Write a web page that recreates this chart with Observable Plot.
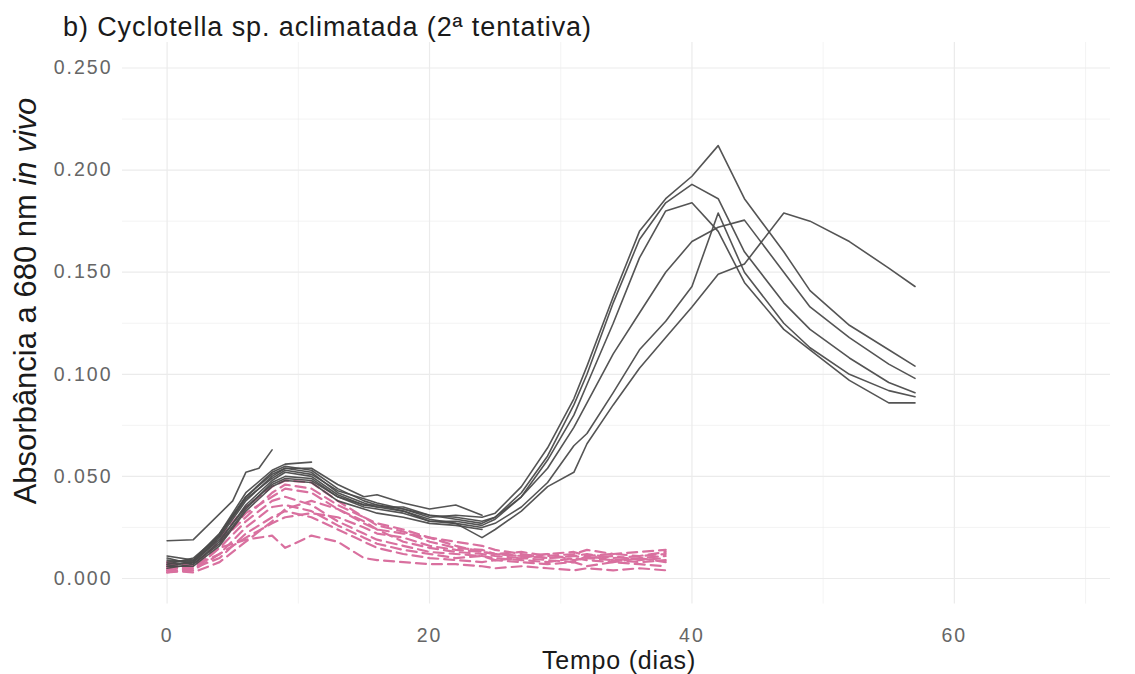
<!DOCTYPE html>
<html><head><meta charset="utf-8">
<script src="https://cdn.jsdelivr.net/npm/d3@7"></script>
<script src="https://cdn.jsdelivr.net/npm/@observablehq/plot@0.6"></script>
<style>
body{margin:0;background:#fff;font-family:"Liberation Sans",Arial,sans-serif;}
#title{position:relative;height:42px;width:1135px;}
#title span{position:absolute;left:63px;top:14px;font-size:27px;line-height:1;color:#1a1a1a;letter-spacing:0.9px;white-space:nowrap}
</style></head><body>
<div id="title"><span>b) Cyclotella sp. aclimatada (2ª tentativa)</span></div>
<div id="chart"></div>
<script>
// ---- tick labels / axes
const xTicks = [0, 20, 40, 60];
const xMinor = [10, 30, 50, 70];
const yTicks = [0, 0.05, 0.10, 0.15, 0.20, 0.25];
const yMinor = [0.025, 0.075, 0.125, 0.175, 0.225];
const xTitle = "Tempo (dias)";
const yTitleA = "Absorbância a 680 nm ";
const yTitleB = "in vivo";

// ---- gray (solid) series: long runs
const diasG = [0,2,4,6,8,9,11,13,15,16,18,20,22,24,25,27,29,31,32,34,36,38,40,42,44,47,49,52,55,57];
const cinzaD = [0.008,0.009,0.022,0.040,0.052,0.055,0.053,0.044,0.038,0.036,0.034,0.030,0.031,0.030,0.032,0.045,0.064,0.088,0.104,0.138,0.170,0.186,0.197,0.212,0.186,0.160,0.141,0.124,0.112,0.104];
const cinzaA = [0.006,0.008,0.020,0.038,0.050,0.054,0.052,0.042,0.037,0.035,0.035,0.031,0.029,0.027,0.030,0.042,0.060,0.085,0.100,0.135,0.166,0.184,0.193,0.186,0.160,0.135,0.122,0.108,0.096,0.091];
const cinzaC = [0.010,0.007,0.018,0.036,0.048,0.052,0.050,0.041,0.036,0.036,0.033,0.028,0.028,0.026,0.029,0.040,0.058,0.080,0.095,0.125,0.157,0.180,0.184,0.170,0.145,0.122,0.112,0.097,0.086,0.086];
const cinzaF = [0.007,0.010,0.021,0.039,0.049,0.053,0.051,0.043,0.039,0.037,0.034,0.031,0.030,0.028,0.030,0.040,0.054,0.074,0.086,0.110,0.130,0.150,0.165,0.172,0.1755,0.150,0.133,0.118,0.105,0.098];
const cinzaE = [0.005,0.007,0.017,0.034,0.047,0.050,0.049,0.040,0.035,0.034,0.032,0.028,0.027,0.025,0.027,0.035,0.047,0.065,0.071,0.091,0.112,0.126,0.143,0.179,0.150,0.125,0.113,0.100,0.092,0.089];
const cinzaG = [0.009,0.008,0.019,0.035,0.046,0.049,0.048,0.040,0.036,0.035,0.033,0.029,0.027,0.020,0.024,0.033,0.045,0.052,0.066,0.085,0.103,0.118,0.133,0.149,0.154,0.179,0.175,0.165,0.152,0.143];
// gray short runs
const diasH = [0,2,5,6,7,8];
const cinzaH = [0.0185,0.019,0.038,0.052,0.054,0.063];
const diasI = [0,2,4,6,8,9,11];
const cinzaI = [0.011,0.009,0.022,0.042,0.053,0.056,0.057];
const diasJK = [0,2,4,6,8,9,11,13,15,16,18,20,22,24];
const cinzaJ = [0.007,0.008,0.021,0.040,0.051,0.054,0.054,0.046,0.040,0.041,0.037,0.034,0.036,0.031];
const cinzaK = [0.006,0.006,0.016,0.033,0.045,0.048,0.047,0.038,0.034,0.032,0.030,0.027,0.026,0.024];

// ---- pink (dashed) series
const diasR = [0,2,4,6,8,9,11,13,15,16,18,20,22,24,25,27,29,31,32,34,36,38];
const rosa1 = [0.005,0.008,0.020,0.035,0.045,0.048,0.047,0.038,0.030,0.027,0.024,0.020,0.016,0.013,0.012,0.011,0.010,0.011,0.012,0.010,0.011,0.012];
const rosa2 = [0.004,0.006,0.018,0.032,0.040,0.044,0.042,0.034,0.028,0.024,0.018,0.015,0.013,0.012,0.011,0.010,0.012,0.009,0.010,0.011,0.009,0.010];
const rosa3 = [0.003,0.005,0.015,0.028,0.038,0.040,0.036,0.028,0.022,0.019,0.016,0.013,0.012,0.011,0.010,0.009,0.008,0.010,0.009,0.008,0.010,0.008];
const rosa4 = [0.006,0.004,0.012,0.025,0.035,0.036,0.033,0.026,0.020,0.017,0.014,0.012,0.010,0.011,0.009,0.010,0.009,0.008,0.011,0.009,0.008,0.009];
const rosa5 = [0.008,0.005,0.010,0.022,0.030,0.033,0.030,0.024,0.018,0.015,0.012,0.010,0.009,0.008,0.009,0.008,0.007,0.008,0.006,0.008,0.007,0.006];
const rosa6 = [0.003,0.004,0.015,0.019,0.021,0.015,0.021,0.018,0.010,0.009,0.008,0.007,0.007,0.006,0.005,0.006,0.005,0.004,0.005,0.004,0.005,0.004];
const rosa7 = [0.005,0.006,0.012,0.020,0.027,0.030,0.032,0.030,0.025,0.022,0.020,0.016,0.014,0.013,0.012,0.013,0.011,0.012,0.014,0.012,0.013,0.014];
const rosa8 = [0.004,0.003,0.008,0.018,0.028,0.034,0.038,0.034,0.027,0.024,0.022,0.020,0.018,0.016,0.014,0.012,0.010,0.011,0.010,0.009,0.010,0.011];
const rosa9 = [0.007,0.006,0.018,0.030,0.042,0.046,0.044,0.036,0.030,0.026,0.023,0.018,0.015,0.014,0.012,0.011,0.012,0.013,0.011,0.012,0.011,0.013];

const cinza = [];
const rosa = [];
function add(arr, id, dias, vals) { dias.forEach((d, i) => arr.push({id, dia: d, abs: vals[i]})); }
add(cinza, "D", diasG, cinzaD); add(cinza, "A", diasG, cinzaA); add(cinza, "C", diasG, cinzaC);
add(cinza, "F", diasG, cinzaF); add(cinza, "E", diasG, cinzaE); add(cinza, "G", diasG, cinzaG);
add(cinza, "H", diasH, cinzaH); add(cinza, "I", diasI, cinzaI);
add(cinza, "J", diasJK, cinzaJ); add(cinza, "K", diasJK, cinzaK);
[rosa1, rosa2, rosa3, rosa4, rosa5, rosa6, rosa7, rosa8, rosa9].forEach((v, i) => add(rosa, "R" + i, diasR, v));

const H = 632, MB = 70.5, ML = 122, MR = 25;
const chart = Plot.plot({
  width: 1135, height: H,
  marginLeft: ML, marginRight: MR, marginTop: 0, marginBottom: MB,
  x: {domain: [-3.4, 71.9]},
  y: {domain: [-0.0125, 0.2625]},
  style: {fontFamily: "Liberation Sans, Arial, sans-serif", fontSize: "19.5px", background: "#fff"},
  marks: [
    Plot.gridY(yMinor, {stroke: "#ebebeb", strokeOpacity: 1, strokeWidth: 0.6}),
    Plot.gridX(xMinor, {stroke: "#ebebeb", strokeOpacity: 1, strokeWidth: 0.6}),
    Plot.gridY(yTicks, {stroke: "#ebebeb", strokeOpacity: 1, strokeWidth: 1.2}),
    Plot.gridX(xTicks, {stroke: "#ebebeb", strokeOpacity: 1, strokeWidth: 1.2}),
    Plot.axisY(yTicks, {tickSize: 0, tickPadding: 10, tickFormat: d3.format(".3f"), label: null, fill: "#666", fontSize: 19.5}),
    Plot.axisX(xTicks, {tickSize: 0, tickPadding: 24, tickFormat: d => String(d), label: null, fill: "#666", fontSize: 19.5}),
    Plot.line(rosa, {x: "dia", y: "abs", z: "id", stroke: "#d9709f", strokeWidth: 2.2, strokeDasharray: "10,6", curve: "linear"}),
    Plot.line(cinza, {x: "dia", y: "abs", z: "id", stroke: "#4b4b4b", strokeWidth: 1.6, strokeOpacity: 0.95, curve: "linear"})
  ]
});
document.getElementById("chart").appendChild(chart);

const svg = d3.select(chart);
svg.selectAll("g[aria-label='y-axis tick label'] text, g[aria-label='x-axis tick label'] text").attr("letter-spacing", "2px");
// axis titles
svg.append("text")
  .attr("x", (ML + 1135 - MR) / 2 + 3).attr("y", 627)
  .attr("text-anchor", "middle").attr("font-size", 25).attr("letter-spacing", "0.8px").attr("fill", "#1a1a1a")
  .text(xTitle);
const yt = svg.append("text")
  .attr("transform", "translate(36,259) rotate(-90)")
  .attr("text-anchor", "middle").attr("font-size", 31).attr("fill", "#1a1a1a");
yt.append("tspan").text(yTitleA);
yt.append("tspan").attr("font-style", "italic").text(yTitleB);
</script>
</body></html>
